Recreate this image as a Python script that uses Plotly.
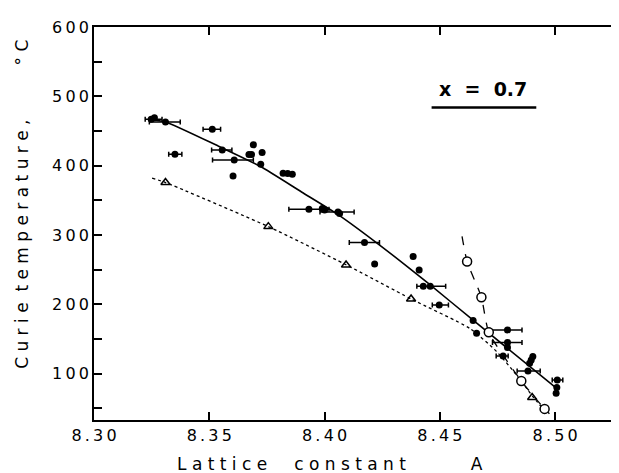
import plotly.graph_objects as go

NB = '\u00a0'
TS = '\u2009'

# filled circles without error bars
dot_x = [8.3262, 8.3603, 8.3691, 8.3672, 8.3683, 8.3729, 8.3723, 8.382, 8.384, 8.386,
         8.399, 8.400, 8.4065, 8.4217, 8.4384, 8.441, 8.4428, 8.4644, 8.4659, 8.4793,
         8.4903, 8.4896, 8.4889, 8.5007, 8.5004]
dot_y = [469, 385, 430, 416, 416, 419, 402, 389, 388.5, 387.5,
         338, 336, 331, 258, 269, 249.5, 226, 176.5, 158, 137.6,
         124.5, 119.6, 115, 80, 71.6]

# filled circles with horizontal error bars
err_x = [8.3248, 8.331, 8.3513, 8.3351, 8.3556, 8.3608, 8.3932, 8.4058, 8.4173, 8.4458,
         8.4497, 8.4793, 8.4793, 8.4774, 8.4882, 8.5009]
err_y = [467, 463, 452.5, 416.4, 422.7, 408, 337, 333, 289, 226,
         199, 163, 144.8, 125.4, 103.8, 90.8]
err_minus = [0.0026, 0.0070, 0.0040, 0.0027, 0.0046, 0.0094, 0.0087, 0.0078, 0.0066, 0.0058,
             0.0030, 0.0077, 0.0065, 0.0030, 0.0047, 0.0022]
err_plus = [0.0047, 0.0064, 0.0036, 0.0030, 0.0042, 0.0083, 0.0087, 0.0070, 0.0065, 0.0067,
            0.0040, 0.0063, 0.0063, 0.0022, 0.0053, 0.0024]

# open triangles
tri_x = [8.331, 8.3756, 8.4093, 8.4375, 8.490]
tri_y = [375.6, 312, 256.7, 207.6, 65.4]

# open circles
ring_x = [8.4618, 8.468, 8.4712, 8.4853, 8.4954]
ring_y = [261.6, 210, 159.6, 89.3, 49]

# drawn curves
solid_x = [8.324, 8.331, 8.354, 8.372, 8.390, 8.406, 8.424, 8.445, 8.4644, 8.4997]
solid_y = [467, 463, 428, 399, 362, 329, 285, 230, 177, 81]
dotted_x = [8.3252, 8.331, 8.3756, 8.4093, 8.4375, 8.463, 8.4745, 8.4832, 8.4903, 8.494]
dotted_y = [382, 375.6, 312, 257, 207.6, 165, 132, 98, 66.8, 52]
dashed_x = [8.4596, 8.4618, 8.468, 8.4712, 8.4853, 8.4954, 8.4975]
dashed_y = [298, 261.6, 210, 159.6, 89.3, 49, 42]

x_ticks = [8.30, 8.35, 8.40, 8.45, 8.50]
x_labels = ['8.30', '8.35', '8.40', '8.45', '8.50']
y_ticks = [50, 100, 150, 200, 250, 300, 350, 400, 450, 500, 550, 600]
y_labels = ['', '100', '', '200', '', '300', '', '400', '', '500', '', '600']


def spread(s):
    return TS.join(list(s))


def letters(words, gaps):
    out = NB.join(words[0])
    for w, g in zip(words[1:], gaps):
        out += NB * g + NB.join(w)
    return out


fig = go.Figure()

fig.add_trace(go.Scatter(x=solid_x, y=solid_y, mode='lines',
                         line=dict(color='black', width=1.6, shape='spline', smoothing=0.6), hoverinfo='skip'))
fig.add_trace(go.Scatter(x=dotted_x, y=dotted_y, mode='lines',
                         line=dict(color='black', width=1.3, dash='dot', shape='spline', smoothing=0.6),
                         hoverinfo='skip'))
fig.add_trace(go.Scatter(x=dashed_x, y=dashed_y, mode='lines',
                         line=dict(color='black', width=1.3, dash='dash', shape='spline', smoothing=0.6),
                         hoverinfo='skip'))

fig.add_trace(go.Scatter(x=err_x, y=err_y, mode='markers',
                         marker=dict(color='black', size=7),
                         error_x=dict(type='data', symmetric=False, array=err_plus, arrayminus=err_minus,
                                      color='black', thickness=1.5, width=2.5)))
fig.add_trace(go.Scatter(x=dot_x, y=dot_y, mode='markers', marker=dict(color='black', size=7)))
fig.add_trace(go.Scatter(x=tri_x, y=tri_y, mode='markers',
                         marker=dict(symbol='triangle-up-open', color='black', size=8, line=dict(width=1.5))))
fig.add_trace(go.Scatter(x=ring_x, y=ring_y, mode='markers',
                         marker=dict(symbol='circle', color='white', size=9, line=dict(color='black', width=1.5))))

# x = 0.7 label with underline
fig.add_annotation(x=8.4689, y=511, xref='x', yref='y', text='<b>x' + NB * 2 + '=' + NB * 2 + '0.7</b>',
                   showarrow=False, font=dict(family='DejaVu Sans', size=19, color='black'))
fig.add_shape(type='line', xref='x', yref='y', x0=8.4464, x1=8.4918, y0=484, y1=484,
              line=dict(color='black', width=2.5))

fig.add_annotation(x=0.446, y=-0.112, xref='paper', yref='paper', xanchor='center', yanchor='middle',
                   text=letters(['Lattice', 'constant', 'A'], [5, 12]),
                   showarrow=False, font=dict(family='DejaVu Sans', size=17, color='black'))
fig.add_annotation(x=-0.135, y=0.549, xref='paper', yref='paper', xanchor='center', yanchor='middle',
                   textangle=-90,
                   text=letters(['Curie', 'temperature,', '°C'], [2, 10]),
                   showarrow=False, font=dict(family='DejaVu Sans', size=17, color='black'))

fig.update_xaxes(range=[8.30, 8.5294], tickvals=x_ticks, ticktext=[spread(t) for t in x_labels],
                 ticks='inside', ticklen=8, tickwidth=1.5, tickcolor='black',
                 showline=True, linecolor='black', linewidth=1.5, mirror='ticks',
                 showgrid=False, zeroline=False,
                 tickfont=dict(family='DejaVu Sans', size=16, color='black'))
fig.update_yaxes(range=[33, 600], tickvals=y_ticks, ticktext=[spread(t) for t in y_labels],
                 ticks='inside', ticklen=8, tickwidth=1.5, tickcolor='black',
                 showline=True, linecolor='black', linewidth=1.5, mirror='ticks',
                 showgrid=False, zeroline=False,
                 tickfont=dict(family='DejaVu Sans', size=16, color='black'))

fig.update_layout(width=619, height=473, margin=dict(l=86, r=2, t=19, b=61),
                  plot_bgcolor='white', paper_bgcolor='white', showlegend=False)

fig.write_html('out.html')
